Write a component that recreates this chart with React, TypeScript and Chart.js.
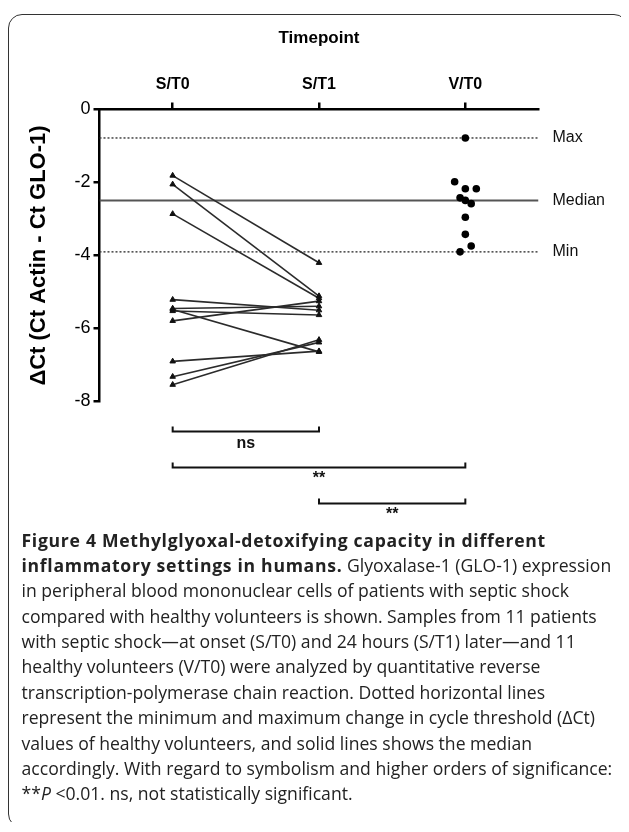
import React, { useEffect, useRef } from "react";
import { Chart, registerables } from "chart.js";

Chart.register(...registerables);

const categories = ["S/T0", "S/T1", "V/T0"];
const septicT0 = [-1.81, -2.05, -2.86, -5.21, -5.45, -5.48, -5.52, -5.79, -6.9, -7.32, -7.54];
const septicT1 = [-4.2, -5.11, -5.17, -5.5, -5.39, -6.64, -5.63, -5.25, -6.62, -6.38, -6.31];
const volunteers = [-0.78, -1.98, -2.17, -2.17, -2.42, -2.49, -2.58, -2.95, -3.42, -3.74, -3.9];
const volunteerJitter = [0, -0.073, 0, 0.075, -0.036, 0, 0.04, 0, 0, 0.04, -0.036];
const yTicks = [0, -2, -4, -6, -8];
const refLabels = ["Max", "Median", "Min"];
const comparisonFrom = [0, 0, 1];
const comparisonTo = [1, 2, 2];
const comparisonLabels = ["ns", "**", "**"];

const FONT = "'Liberation Sans', Arial, sans-serif";

const sorted = [...volunteers].sort((a, b) => a - b);
const refValues = [sorted[sorted.length - 1], sorted[Math.floor(sorted.length / 2)], sorted[0]];

const annotPlugin = {
  id: "annot",
  afterDraw(chart: any) {
    const { ctx, chartArea, scales } = chart;
    const x = scales.x;
    const y = scales.y;
    ctx.save();
    ctx.fillStyle = "#111";
    ctx.textAlign = "left";
    ctx.textBaseline = "middle";
    ctx.font = `16px ${FONT}`;
    refLabels.forEach((lab, i) => {
      ctx.fillText(lab, chartArea.right + 14, y.getPixelForValue(refValues[i]));
    });
    const offsets = [30, 66, 102];
    ctx.strokeStyle = "#111";
    ctx.lineWidth = 2;
    comparisonLabels.forEach((lab, i) => {
      const x1 = x.getPixelForValue(comparisonFrom[i]);
      const x2 = x.getPixelForValue(comparisonTo[i]);
      const yy = chartArea.bottom + offsets[i];
      ctx.beginPath();
      ctx.moveTo(x1, yy - 5);
      ctx.lineTo(x1, yy);
      ctx.lineTo(x2, yy);
      ctx.lineTo(x2, yy - 5);
      ctx.stroke();
      ctx.textAlign = "center";
      ctx.font = `bold 16px ${FONT}`;
      ctx.fillText(lab, (x1 + x2) / 2, yy + (lab === "ns" ? 12 : 11));
    });
    ctx.restore();
  },
};

export default function App() {
  const ref = useRef<HTMLCanvasElement | null>(null);
  useEffect(() => {
    if (!ref.current) return;
    const pairDatasets = septicT0.map((v, i) => ({
      type: "line" as const,
      data: [
        { x: 0, y: v },
        { x: 1, y: septicT1[i] },
      ],
      borderColor: "#2b2b2b",
      borderWidth: 1.6,
      pointStyle: "triangle",
      pointRadius: 3.2,
      pointBackgroundColor: "#111",
      pointBorderColor: "#111",
      pointBorderWidth: 1,
      order: 1,
    }));
    const volDataset = {
      type: "scatter" as const,
      data: volunteers.map((v, i) => ({ x: 2 + volunteerJitter[i], y: v })),
      pointRadius: 3.8,
      pointBackgroundColor: "#000",
      pointBorderColor: "#000",
      pointBorderWidth: 0,
      order: 0,
    };
    const refDatasets = refValues.map((v, i) => ({
      type: "line" as const,
      data: [
        { x: -0.5, y: v },
        { x: 2.5, y: v },
      ],
      borderColor: i === 1 ? "#555" : "#444",
      borderWidth: i === 1 ? 2 : 1.5,
      borderDash: i === 1 ? [] : [2, 2],
      pointRadius: 0,
      order: 5,
    }));
    const chart = new Chart(ref.current, {
      type: "scatter",
      data: { datasets: [volDataset, ...pairDatasets, ...refDatasets] as any },
      options: {
        animation: false,
        responsive: false,
        maintainAspectRatio: false,
        layout: { padding: { left: 0, right: 87.5, top: 0, bottom: 128.5 } },
        plugins: { legend: { display: false }, tooltip: { enabled: false } },
        scales: {
          x: {
            type: "linear",
            position: "top",
            min: -0.5,
            max: 2.5,
            afterBuildTicks: (s: any) => {
              s.ticks = categories.map((_, i) => ({ value: i }));
            },
            afterFit: (s: any) => {
              s.height = 94.5;
            },
            ticks: {
              callback: (v: any) => categories[v as number] ?? "",
              font: { family: FONT, size: 16, weight: "bold" },
              color: "#000",
              padding: 8,
              maxRotation: 0,
            },
            grid: { drawOnChartArea: false, tickLength: 7, color: "#000", lineWidth: 2.5 },
            border: { display: true, color: "#000", width: 2.5 },
            title: {
              display: true,
              text: "Timepoint",
              font: { family: FONT, size: 17, weight: "bold" },
              color: "#000",
              padding: { top: 13, bottom: 0 },
            },
          },
          y: {
            type: "linear",
            position: "left",
            min: -8,
            max: 0,
            afterBuildTicks: (s: any) => {
              s.ticks = yTicks.map((v) => ({ value: v }));
            },
            afterFit: (s: any) => {
              s.width = 90.5;
            },
            ticks: {
              font: { family: FONT, size: 18 },
              color: "#000",
              padding: 3,
            },
            grid: { drawOnChartArea: false, tickLength: 6, color: "#000", lineWidth: 2.5 },
            border: { display: true, color: "#000", width: 2.5 },
            title: {
              display: true,
              text: "ΔCt (Ct Actin - Ct GLO-1)",
              font: { family: FONT, size: 22, weight: "bold" },
              color: "#000",
              padding: { top: 17, bottom: 0 },
            },
          },
        },
      },
      plugins: [annotPlugin],
    });
    return () => chart.destroy();
  }, []);

  const lineStyle: React.CSSProperties = { whiteSpace: "nowrap", height: 25.4, lineHeight: "25.4px" };
  const boldStyle: React.CSSProperties = { letterSpacing: 0.7 };
  return (
    <div
      style={{
        position: "relative",
        top: 6,
        width: 620,
        height: 814,
        border: "1.5px solid #333",
        borderRadius: 14,
        boxSizing: "border-box",
        background: "#fff",
      }}
    >
      <canvas ref={ref} width={617} height={515} style={{ position: "absolute", left: 0, top: 0, width: 617, height: 515 }} />
      <div
        style={{
          position: "absolute",
          left: 12.5,
          top: 512.5,
          fontFamily: "'Open Sans', 'Noto Sans', sans-serif",
          fontSize: 17.6,
          letterSpacing: 0,
          color: "#222",
        }}
      >
        <div style={lineStyle}><b style={boldStyle}>Figure 4 Methylglyoxal-detoxifying capacity in different</b></div>
        <div style={lineStyle}><b style={boldStyle}>inflammatory settings in humans.</b> Glyoxalase-1 (GLO-1) expression</div>
        <div style={lineStyle}>in peripheral blood mononuclear cells of patients with septic shock</div>
        <div style={lineStyle}>compared with healthy volunteers is shown. Samples from 11 patients</div>
        <div style={lineStyle}>with septic shock—at onset (S/T0) and 24 hours (S/T1) later—and 11</div>
        <div style={lineStyle}>healthy volunteers (V/T0) were analyzed by quantitative reverse</div>
        <div style={lineStyle}>transcription-polymerase chain reaction. Dotted horizontal lines</div>
        <div style={lineStyle}>represent the minimum and maximum change in cycle threshold (ΔCt)</div>
        <div style={lineStyle}>values of healthy volunteers, and solid lines shows the median</div>
        <div style={lineStyle}>accordingly. With regard to symbolism and higher orders of significance:</div>
        <div style={lineStyle}>**<i>P</i> &lt;0.01. ns, not statistically significant.</div>
      </div>
    </div>
  );
}
